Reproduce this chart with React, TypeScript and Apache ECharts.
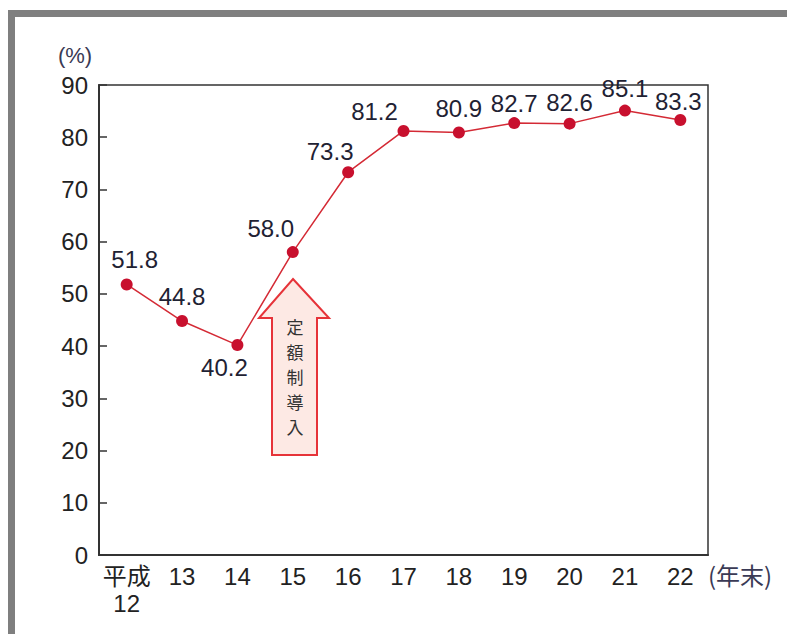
import React, { useEffect, useRef } from "react";
import * as echarts from "echarts";

const categories = ["平成\n12", "13", "14", "15", "16", "17", "18", "19", "20", "21", "22"];
const rates = [51.8, 44.8, 40.2, 58.0, 73.3, 81.2, 80.9, 82.7, 82.6, 85.1, 83.3];
const labelOffsets: [number, number][] = [
  [8, -25], [0, -25], [-13, 22], [-22, -24], [-18, -21], [-29, -19],
  [0, -24], [0, -20], [0, -21], [0, -22], [-2, -18],
];
const yTicks = { min: 0, max: 90, interval: 10 };
const arrowChars = ["定", "額", "制", "導", "入"];

export default function App() {
  const ref = useRef<HTMLDivElement>(null);
  useEffect(() => {
    if (!ref.current) return;
    const chart = echarts.init(ref.current, null, { renderer: "svg" });
    const font = "'Liberation Sans', Arial, Helvetica, sans-serif";
    const cjk = "'Liberation Sans', 'Noto Sans CJK JP', sans-serif";
    chart.setOption({
      animation: false,
      backgroundColor: "#ffffff",
      grid: {
        left: 99,
        right: 79,
        top: 85,
        bottom: 79,
        show: true,
        borderColor: "#333",
        borderWidth: 1.5,
        containLabel: false,
      },
      xAxis: {
        type: "category",
        data: categories,
        boundaryGap: true,
        axisLine: { lineStyle: { color: "#333", width: 2 } },
        axisTick: { inside: true, length: 11, lineStyle: { color: "#333", width: 1.5 } },
        axisLabel: {
          color: "#222",
          fontFamily: cjk,
          fontSize: 24,
          lineHeight: 27,
          margin: 8,
          interval: 0,
        },
      },
      yAxis: {
        type: "value",
        min: yTicks.min,
        max: yTicks.max,
        interval: yTicks.interval,
        splitLine: { show: false },
        axisLine: { show: true, lineStyle: { color: "#333", width: 2 } },
        axisTick: { show: true, inside: true, length: 8, lineStyle: { color: "#333", width: 1.5 } },
        axisLabel: { color: "#222", fontFamily: font, fontSize: 24, margin: 11 },
      },
      series: [
        {
          type: "line",
          data: rates.map((v, i) => ({
            value: v,
            label: { offset: labelOffsets[i] },
          })),
          symbol: "circle",
          symbolSize: 12,
          lineStyle: { color: "#d42a35", width: 1.5 },
          itemStyle: { color: "#c8102e" },
          label: {
            show: true,
            position: "inside",
            color: "#1f2233",
            fontFamily: font,
            fontSize: 24,
            textBorderWidth: 0,
            formatter: (p: any) => Number(p.value).toFixed(1),
          },
          z: 3,
        },
      ],
      graphic: [
        { type: "rect", shape: { x: 8, y: 10, width: 779, height: 7 }, style: { fill: "#7f7f7f" } },
        { type: "rect", shape: { x: 8, y: 10, width: 7, height: 624 }, style: { fill: "#7f7f7f" } },
        {
          type: "polygon",
          shape: {
            points: [
              [293, 279], [329, 318], [317, 318], [317, 455],
              [272, 455], [272, 318], [259, 318],
            ],
          },
          style: { fill: "#fde9e4", stroke: "#e63339", lineWidth: 2 },
          z: 10,
        },
        ...arrowChars.map((ch, i) => ({
          type: "text",
          x: 295,
          y: 326 + i * 25,
          style: {
            text: ch,
            fill: "#333",
            font: "17px 'Noto Sans CJK JP', sans-serif",
            align: "center",
            verticalAlign: "middle",
          },
          z: 11,
        })),
        {
          type: "text",
          x: 75,
          y: 55,
          style: {
            text: "(%)",
            fill: "#3a3a55",
            font: "22px 'Liberation Sans', Arial, sans-serif",
            align: "center",
            verticalAlign: "middle",
          },
        },
        {
          type: "text",
          x: 740,
          y: 574,
          style: {
            text: "(年末)",
            fill: "#3a3a55",
            font: "24px 'Noto Sans CJK JP', sans-serif",
            align: "center",
            verticalAlign: "middle",
          },
        },
      ],
    });
    return () => chart.dispose();
  }, []);
  return (
    <div
      ref={ref}
      style={{ position: "fixed", left: 0, top: 0, width: 787, height: 634, background: "#fff" }}
    />
  );
}
